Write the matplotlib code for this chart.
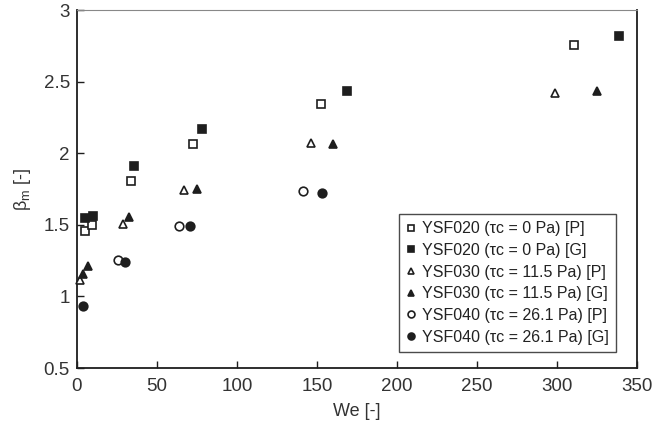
import matplotlib
matplotlib.use("Agg")
import matplotlib.pyplot as plt

plt.rcParams['font.family'] = ['Liberation Sans', 'DejaVu Sans']
plt.rcParams['mathtext.fontset'] = 'custom'
plt.rcParams['mathtext.rm'] = 'Liberation Sans'
plt.rcParams['mathtext.it'] = 'Liberation Sans'

# Weber number vs. maximum spreading factor
ysf020_p_we = [5.0, 9.6, 33.8, 72.3, 152.5, 311.0]
ysf020_p_beta = [1.457, 1.50, 1.806, 2.064, 2.344, 2.756]
ysf020_g_we = [5.0, 9.8, 35.8, 78.1, 168.5, 339.0]
ysf020_g_beta = [1.547, 1.564, 1.91, 2.167, 2.432, 2.818]

ysf030_p_we = [2.1, 29.0, 66.9, 146.5, 299.0]
ysf030_p_beta = [1.115, 1.508, 1.743, 2.074, 2.42]
ysf030_g_we = [3.5, 6.7, 32.5, 75.2, 160.0, 325.0]
ysf030_g_beta = [1.157, 1.214, 1.557, 1.75, 2.064, 2.436]

ysf040_p_we = [25.8, 63.9, 141.0]
ysf040_p_beta = [1.254, 1.494, 1.736]
ysf040_g_we = [3.75, 30.0, 70.4, 153.3]
ysf040_g_beta = [0.935, 1.243, 1.494, 1.722]

labels = [
    "YSF020 (τc = 0 Pa) [P]",
    "YSF020 (τc = 0 Pa) [G]",
    "YSF030 (τc = 11.5 Pa) [P]",
    "YSF030 (τc = 11.5 Pa) [G]",
    "YSF040 (τc = 26.1 Pa) [P]",
    "YSF040 (τc = 26.1 Pa) [G]",
]

ink = '#1e1e1e'
fig = plt.figure(figsize=(6.69, 4.24), dpi=100)
ax = fig.add_axes([0.115, 0.132, 0.837, 0.844])

series = [
    (ysf020_p_we, ysf020_p_beta, 's', 'white'),
    (ysf020_g_we, ysf020_g_beta, 's', ink),
    (ysf030_p_we, ysf030_p_beta, '^', 'white'),
    (ysf030_g_we, ysf030_g_beta, '^', ink),
    (ysf040_p_we, ysf040_p_beta, 'o', 'white'),
    (ysf040_g_we, ysf040_g_beta, 'o', ink),
]
for (x, y, m, fc), lab in zip(series, labels):
    ax.plot(x, y, linestyle='none', marker=m, markersize=6.2,
            markerfacecolor=fc, markeredgecolor=ink, markeredgewidth=1.2,
            label=lab, clip_on=False, zorder=3)

ax.set_xlim(0, 350)
ax.set_ylim(0.5, 3)
ax.set_xticks([0, 50, 100, 150, 200, 250, 300, 350])
ax.set_yticks([0.5, 1, 1.5, 2, 2.5, 3])
ax.set_yticklabels(['0.5', '1', '1.5', '2', '2.5', '3'])

ax.tick_params(direction='in', length=5, width=1, colors=ink,
               labelsize=13.5, labelcolor='#333333')
ax.tick_params(axis='x', pad=7)
ax.tick_params(axis='y', pad=5)
for side in ['left', 'bottom', 'right']:
    ax.spines[side].set_linewidth(1.3)
    ax.spines[side].set_color(ink)
ax.spines['top'].set_linewidth(0.8)
ax.spines['top'].set_color('#888888')

ax.set_xlabel('We [-]', fontsize=13, color='#333333', labelpad=6)
ax.set_ylabel(r'β$_{\mathrm{m}}$ [-]', fontsize=13, color='#333333', labelpad=8)

leg = ax.legend(loc='lower right', fontsize=11.5, frameon=True, fancybox=False,
                handlelength=0.6, handletextpad=0.4, borderpad=0.45,
                labelspacing=0.42, markerscale=0.8, borderaxespad=0,
                bbox_to_anchor=(0.9625, 0.045))
leg.get_frame().set_edgecolor(ink)
leg.get_frame().set_linewidth(1.0)
for t in leg.get_texts():
    t.set_color('#222222')

fig.savefig('out.png', dpi=100)
